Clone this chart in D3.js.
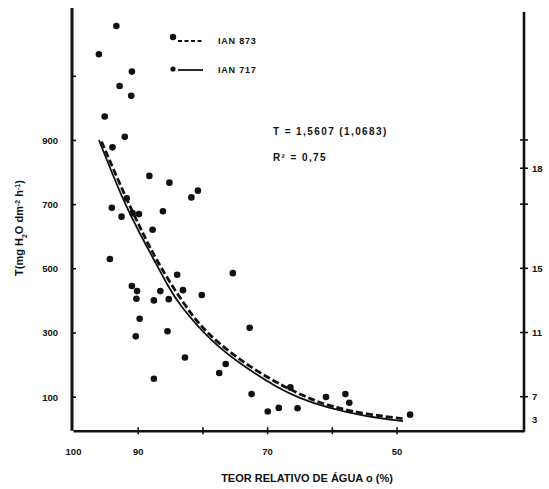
<!DOCTYPE html>
<html>
<head>
<meta charset="utf-8">
<script src="https://cdn.jsdelivr.net/npm/d3@7"></script>
<style>
  body { margin: 0; background: #fff; }
  svg { display: block; }
  text { font-family: "Liberation Sans", Arial, sans-serif; font-weight: bold; fill: #111; }
</style>
</head>
<body>
<div class="chartDIV"></div>
<script>
// observed points: relative water content (%) and transpiration T
var teor   = [93.3, 96.0, 90.9, 92.8, 91.0, 95.1, 92.0, 93.9, 88.2, 85.1, 81.7, 80.7,
              94.0, 91.7, 92.5, 90.8, 89.8, 86.1, 87.7, 94.3, 90.9, 90.1, 90.2, 87.5,
              86.5, 85.2, 83.9, 83.0, 80.1, 75.3, 89.7, 90.3, 85.4, 72.7, 82.7, 76.4,
              77.4, 87.5, 72.4, 69.9, 68.2, 65.3, 66.4, 60.9, 57.9, 57.3, 47.9];
var transp = [1255, 1167, 1113, 1068, 1038, 973, 910, 877, 788, 767, 721, 742,
              689, 718, 661, 672, 669, 678, 620, 529, 445, 429, 405, 400,
              429, 404, 480, 432, 417, 485, 343, 288, 304, 315, 222, 202,
              174, 156, 108, 54, 65, 64, 129, 99, 108, 81, 44];

// fitted curves
var solidTeor = [96.0, 92.3, 89.7, 87.2, 85.4, 83.6, 78.4, 73.2, 68.1, 65.0, 60.9, 54.7, 49.0];
var solidT    = [900, 713, 609, 516, 448, 386, 266, 189, 124, 96, 66, 38, 24];
var dashTeor  = [95.6, 91.8, 89.2, 86.9, 81.5, 77.6, 71.2, 64.0, 59.9, 54.7, 48.8];
var dashT     = [895, 718, 609, 516, 344, 266, 171, 97, 68, 45, 31];

// axes
var xTicks = [100, 90, 80, 70, 60, 50],
    xLabels = ["100", "90", "", "70", "", "50"];
var yTicks = [100, 300, 500, 700, 900, 1100],
    yLabels = ["100", "300", "500", "700", "900", ""];
var rightTickAt = [900, 812, 700, 500, 300, 100];
var rightLabelAt = [812, 500, 300, 100, 30],
    rightLabels = ["18", "15", "11", "7", "3"];

var legendNames = ["IAN 873", "IAN 717"];
var eqLines = ["T = 1,5607 (1,0683)", "R\u00b2 = 0,75"];

var width = 549,
    height = 489,
    svg = d3.select(".chartDIV").
        append("svg").
        attr("width", width).
        attr("height", height);

var x = d3.scaleLinear().domain([100, 30.3]).range([73, 524]),
    y = d3.scaleLinear().domain([-6, 1310]).range([430.7, 8.4]);

// bottom axis
var gx = svg.append("g").
    attr("transform", "translate(0," + y(-6) + ")").
    call(d3.axisBottom(x).tickValues(xTicks).tickSizeOuter(0).
        tickFormat(function(d, i) { return xLabels[i]; }));
gx.select(".domain").attr("stroke", "#111").attr("stroke-width", 2.6);
gx.selectAll(".tick line").attr("y1", -3.5).attr("y2", 3.5).attr("stroke", "#111").attr("stroke-width", 1.6).
    style("display", function(d) { return d === 100 ? "none" : null; });
gx.selectAll(".tick text").attr("y", 24).attr("dy", 0).
    style("font-size", "9.5px").style("font-family", null).attr("fill", "#111");

// left axis
var gy = svg.append("g").
    attr("transform", "translate(72,0)").
    call(d3.axisLeft(y).tickValues(yTicks).tickSizeInner(-4).tickSizeOuter(0).tickPadding(14).
        tickFormat(function(d, i) { return yLabels[i]; }));
gy.select(".domain").attr("stroke", "#111").attr("stroke-width", 3);
gy.selectAll(".tick line").attr("stroke", "#111").attr("stroke-width", 1.6);
gy.selectAll(".tick text").attr("dy", "0.36em").
    style("font-size", "9.5px").style("font-family", null).attr("fill", "#111");
gy.select(".domain").attr("d", "M0," + y(-6) + "V8");

// right axis
var gr = svg.append("g");
gr.append("line").
    attr("x1", x(30.3)).attr("x2", x(30.3)).
    attr("y1", 12).attr("y2", y(-6) + 1).
    attr("stroke", "#111").attr("stroke-width", 2.6);
gr.selectAll(".rtick").
    data(rightTickAt).
    enter().
    append("line").
    attr("class", "rtick").
    attr("x1", x(30.3) - 4).attr("x2", x(30.3) + 4).
    attr("y1", function(d) { return y(d); }).attr("y2", function(d) { return y(d); }).
    attr("stroke", "#111").attr("stroke-width", 1.6);
gr.selectAll(".rlabel").
    data(rightLabelAt).
    enter().
    append("text").
    attr("class", "rlabel").
    attr("x", x(30.3) + 8).
    attr("y", function(d) { return y(d); }).
    attr("dy", "0.36em").
    style("font-size", "9.5px").
    text(function(d, i) { return rightLabels[i]; });

// axis titles
svg.append("text").
    attr("x", 307).attr("y", 482).
    attr("text-anchor", "middle").
    style("font-size", "11px").
    text("TEOR RELATIVO DE \u00c1GUA o (%)");

var yl = svg.append("text").
    attr("transform", "translate(23,228) rotate(-90)").
    attr("text-anchor", "middle").
    style("font-size", "11px");
yl.append("tspan").text("T(mg H");
yl.append("tspan").attr("baseline-shift", "sub").style("font-size", "7px").text("2");
yl.append("tspan").text("O dm");
yl.append("tspan").attr("baseline-shift", "super").style("font-size", "7px").text("-2");
yl.append("tspan").text(" h");
yl.append("tspan").attr("baseline-shift", "super").style("font-size", "7px").text("-1");
yl.append("tspan").text(")");

// points
svg.selectAll(".pt").
    data(teor).
    enter().
    append("circle").
    attr("class", "pt").
    attr("cx", function(d) { return x(d); }).
    attr("cy", function(d, i) { return y(transp[i]); }).
    attr("r", 3.3).
    attr("fill", "#111");

// curves
var line = d3.line().
    curve(d3.curveBasis).
    x(function(d) { return x(d[0]); }).
    y(function(d) { return y(d[1]); });

svg.append("path").
    attr("d", line(d3.zip(solidTeor, solidT))).
    attr("fill", "none").attr("stroke", "#111").attr("stroke-width", 1.8);

svg.append("path").
    attr("d", line(d3.zip(dashTeor, dashT))).
    attr("fill", "none").attr("stroke", "#111").attr("stroke-width", 2.8).
    attr("stroke-dasharray", "7,3");

// legend
var leg = svg.selectAll(".leg").
    data(legendNames).
    enter().
    append("g").
    attr("class", "leg").
    attr("transform", function(d, i) { return "translate(173," + (41 + i * 29) + ")"; });
leg.append("circle").attr("cx", 0).attr("cy", function(d, i) { return i === 0 ? -4 : -1; }).
    attr("r", function(d, i) { return i === 0 ? 3.2 : 2.6; }).attr("fill", "#111");
leg.append("line").
    attr("x1", 5).attr("x2", 30).attr("y1", 0).attr("y2", 0).
    attr("stroke", "#111").
    attr("stroke-width", 1.8).
    attr("stroke-dasharray", function(d, i) { return i === 0 ? "4,2.5" : null; });
leg.append("text").
    attr("x", 45).attr("y", 0).attr("dy", "0.36em").
    style("font-size", "9px").style("letter-spacing", "0.8px").
    text(function(d) { return d; });

// regression equation
svg.selectAll(".eq").
    data(eqLines).
    enter().
    append("text").
    attr("class", "eq").
    attr("x", 273).
    attr("y", function(d, i) { return 135 + i * 26; }).
    style("font-size", "10px").style("letter-spacing", "1.4px").
    text(function(d) { return d; });
</script>
</body>
</html>
